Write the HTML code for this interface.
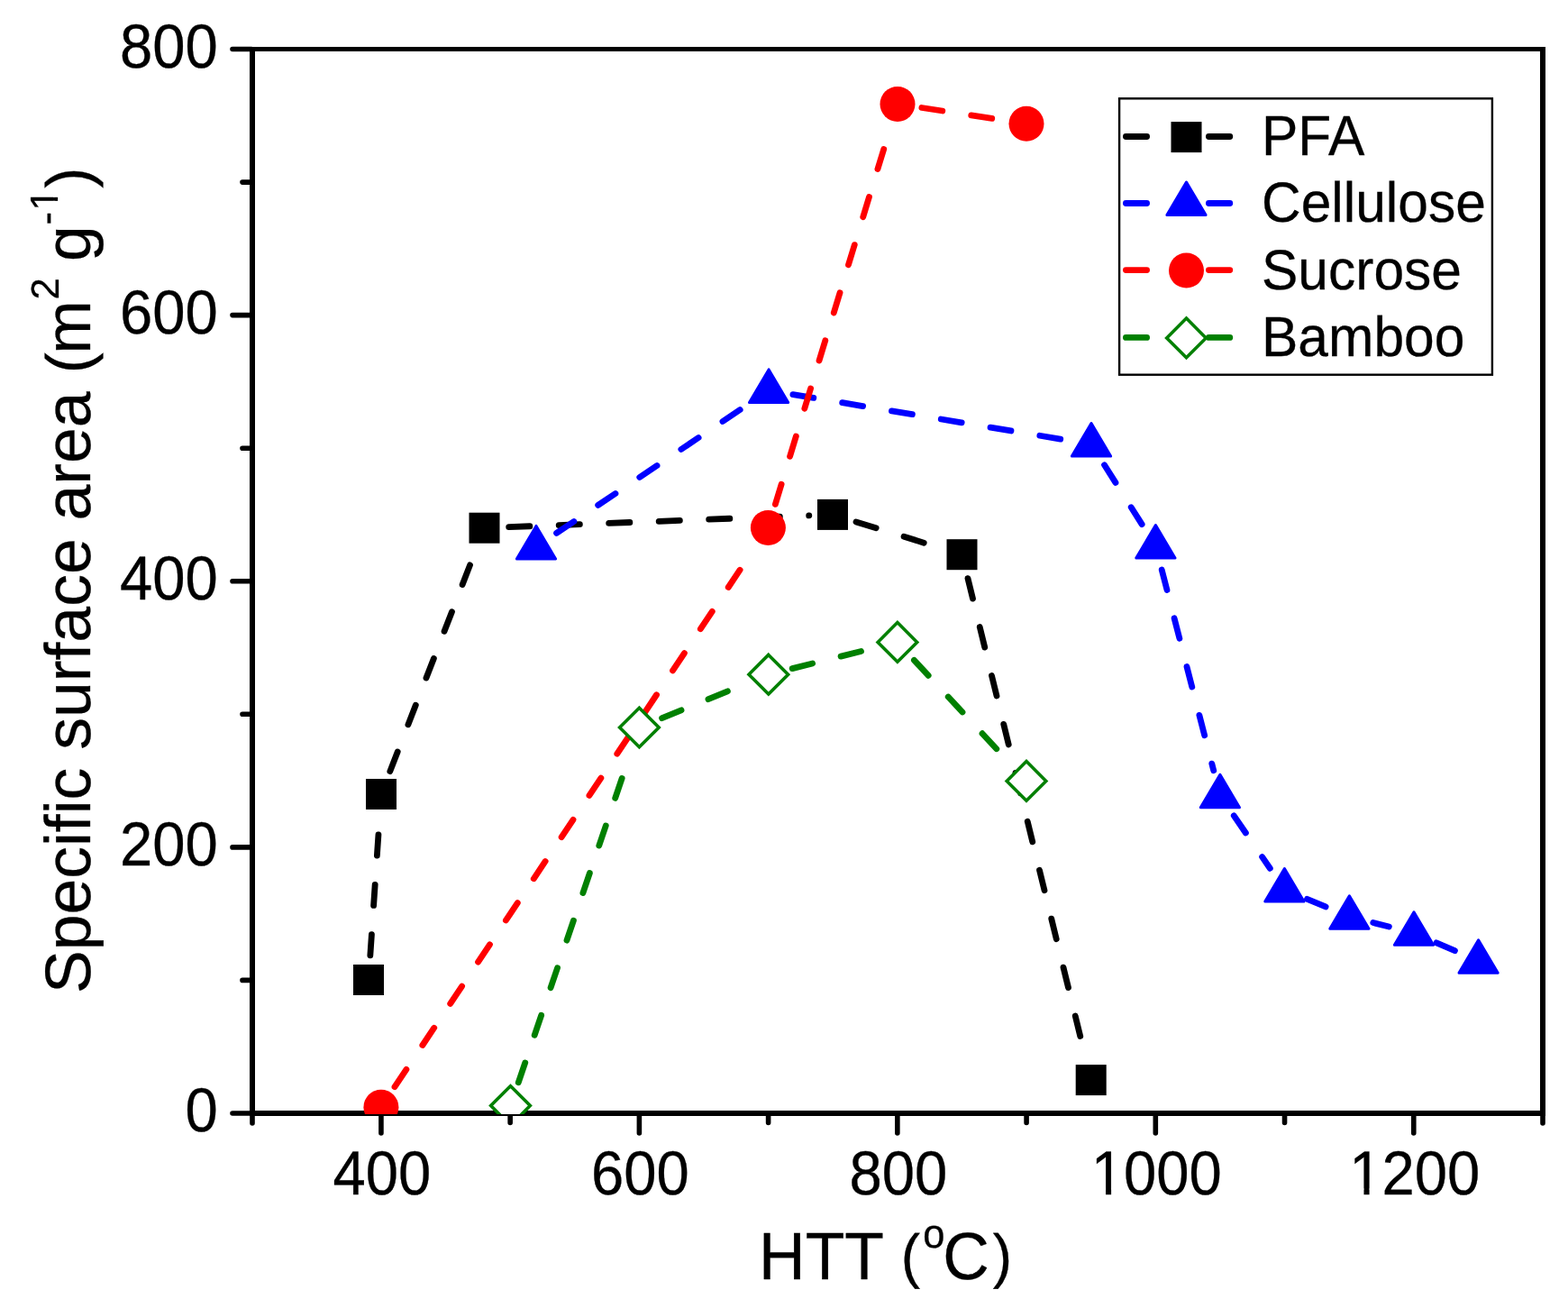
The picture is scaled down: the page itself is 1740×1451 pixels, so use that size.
<!DOCTYPE html><html><head><meta charset="utf-8"><title>Specific surface area vs HTT</title><style>html,body{margin:0;padding:0;background:#fff;}svg{display:block;}</style></head><body>
<svg width="1740" height="1451" viewBox="0 0 1740 1451" text-rendering="geometricPrecision">
<rect width="1740" height="1451" fill="#fff"/>
<defs>
<clipPath id="plot"><rect x="280" y="54.5" width="1432" height="1181.5"/></clipPath>
</defs>
<g stroke="#000" fill="none">
<path d="M277,54.5H1715" stroke-width="5"/>
<path d="M277,1235H1715" stroke-width="6"/>
<path d="M280,52V1238M1712,52V1238" stroke-width="6"/>
<path d="M280,1236V1246M1712,1236V1246M279,1235H258M279,1087.4H269M279,939.9H258M279,792.3H269M279,644.8H258M279,497.2H269M279,349.6H258M279,202.1H269M279,54.5H258M422.93,1236V1257M566.16,1236V1245.5M709.39,1236V1257M852.62,1236V1245.5M995.85,1236V1257M1139.08,1236V1245.5M1282.31,1236V1257M1425.54,1236V1245.5M1568.77,1236V1257" stroke-width="5.6" stroke-linecap="round"/>
</g>
<g clip-path="url(#plot)" fill="#000000"><path d="M410.84,1059.86L412.42,1036.72M414.61,1004.45L416.18,981.3M418.38,949.04L419.95,925.89M432.83,855.64L441.22,834.01M452.91,803.86L461.3,782.23M472.99,752.07L481.38,730.44M493.07,700.29L501.46,678.66M513.15,648.51L521.53,626.87M564.68,584.66L587.86,583.77M620.18,582.53L643.36,581.65M675.68,580.41L698.86,579.52M731.18,578.28L754.36,577.4M786.68,576.16L809.86,575.27M842.18,574.03L865.36,573.15M897.68,571.91L897.82,571.9M949.99,578.92L972.16,585.77M1003.06,595.31L1025.23,602.15M1073.99,641.61L1079.52,664.14M1087.24,695.55L1092.77,718.08M1100.49,749.49L1106.02,772.02M1113.74,803.42L1119.28,825.95M1126.99,857.36L1132.53,879.89M1140.24,911.3L1145.78,933.83M1153.49,965.23L1159.03,987.76M1166.74,1019.17L1172.28,1041.7M1179.99,1073.1L1185.53,1095.63M1193.24,1127.04L1198.78,1149.57" fill="none" stroke="#000000" stroke-width="6.8" stroke-linecap="round"/>
</g>
<g clip-path="url(#plot)" fill="#0000FF"><path d="M617.57,591.43L636.83,578.48M663.67,560.44L682.92,547.5M709.76,529.46L729.01,516.51M755.85,498.47L775.11,485.53M801.95,467.49L821.2,454.54M879.93,437.58L902.81,441.39M934.71,446.71L957.6,450.53M989.5,455.85L1012.38,459.67M1044.28,464.99L1067.16,468.81M1099.06,474.13L1121.95,477.95M1153.84,483.27L1176.73,487.08M1225.54,515.79L1237.94,535.4M1255.22,562.73L1267.17,581.61M1289.21,632.03L1295.01,654.5M1303.1,685.81L1308.9,708.27M1317,739.58L1322.8,762.04M1330.89,793.36L1336.7,815.82M1344.79,847.13L1346.77,854.81M1369.27,904.84L1382.38,923.98M1400.65,950.67L1409.3,963.29M1450.5,997.29L1471.11,1005.91M1523.77,1023.57L1541.37,1028.02M1593.97,1045.78L1614.43,1054.61" fill="none" stroke="#0000FF" stroke-width="6.8" stroke-linecap="round"/>
</g>
<g clip-path="url(#plot)" fill="#FF0000"><path d="M438.01,1205.68L450.9,1186.39M468.86,1159.5L481.75,1140.21M499.72,1113.32L512.6,1094.03M530.57,1067.14L543.46,1047.85M561.42,1020.95L574.31,1001.66M592.27,974.77L605.16,955.48M623.13,928.59L636.01,909.3M653.98,882.41L666.87,863.12M684.83,836.23L697.72,816.93M715.68,790.04L728.57,770.75M746.54,743.86L759.43,724.57M777.39,697.68L790.28,678.39M808.24,651.5L821.13,632.21M860.35,559.39L867.13,537.2M876.58,506.27L883.36,484.08M892.81,453.15L899.58,430.97M909.03,400.04L915.81,377.85M925.26,346.92L932.04,324.74M941.49,293.81L948.27,271.62M957.72,240.69L964.5,218.5M973.95,187.57L980.73,165.39M1022.89,119.5L1045.82,123M1077.79,127.87L1100.73,131.37" fill="none" stroke="#FF0000" stroke-width="6.8" stroke-linecap="round"/>
</g>
<g clip-path="url(#plot)" fill="#008000"><path d="M575.27,1200.85L582.75,1178.89M593.17,1148.28L600.65,1126.32M611.08,1095.7L618.56,1073.74M628.98,1043.13L636.46,1021.17M646.89,990.55L654.37,968.59M664.79,937.98L672.27,916.02M682.7,885.4L690.18,863.44M734.57,796.68L756.03,787.88M785.95,775.61L807.42,766.81M879.19,741.6L901.69,735.97M933.07,728.12L955.57,722.49M1014.42,732.33L1030.21,749.32M1052.22,773.01L1068.01,790.01M1090.03,813.7L1105.82,830.69" fill="none" stroke="#008000" stroke-width="6.8" stroke-linecap="round"/>
</g>
<g clip-path="url(#plot)">
<rect x="392" y="1070" width="34" height="34" fill="#000000"/>
<rect x="406" y="864" width="34" height="34" fill="#000000"/>
<rect x="520.5" y="568.7" width="34" height="34" fill="#000000"/>
<rect x="907" y="553.9" width="34" height="34" fill="#000000"/>
<rect x="1050.5" y="598.2" width="34" height="34" fill="#000000"/>
<rect x="1193.7" y="1181.1" width="34" height="34" fill="#000000"/>
</g>
<g clip-path="url(#plot)">
<polygon points="595,583.4 616.6,619.9 573.4,619.9" fill="#0000FF" stroke="#0000FF" stroke-width="3" stroke-linejoin="round"/>
<polygon points="853.1,409.9 874.7,446.4 831.5,446.4" fill="#0000FF" stroke="#0000FF" stroke-width="3" stroke-linejoin="round"/>
<polygon points="1211,469.6 1232.6,506.1 1189.4,506.1" fill="#0000FF" stroke="#0000FF" stroke-width="3" stroke-linejoin="round"/>
<polygon points="1282.4,582.5 1304,619 1260.8,619" fill="#0000FF" stroke="#0000FF" stroke-width="3" stroke-linejoin="round"/>
<polygon points="1353.9,859.2 1375.5,895.7 1332.3,895.7" fill="#0000FF" stroke="#0000FF" stroke-width="3" stroke-linejoin="round"/>
<polygon points="1425.4,963.6 1447,1000.1 1403.8,1000.1" fill="#0000FF" stroke="#0000FF" stroke-width="3" stroke-linejoin="round"/>
<polygon points="1497.4,993.7 1519,1030.2 1475.8,1030.2" fill="#0000FF" stroke="#0000FF" stroke-width="3" stroke-linejoin="round"/>
<polygon points="1569,1011.8 1590.6,1048.3 1547.4,1048.3" fill="#0000FF" stroke="#0000FF" stroke-width="3" stroke-linejoin="round"/>
<polygon points="1640.6,1042.7 1662.2,1079.2 1619,1079.2" fill="#0000FF" stroke="#0000FF" stroke-width="3" stroke-linejoin="round"/>
</g>
<g clip-path="url(#plot)">
<circle cx="422.9" cy="1228.3" r="19.5" fill="#FF0000"/>
<circle cx="852.4" cy="585.4" r="19.5" fill="#FF0000"/>
<circle cx="996" cy="115.4" r="19.5" fill="#FF0000"/>
<circle cx="1139" cy="137.2" r="19.5" fill="#FF0000"/>
</g>
<g clip-path="url(#plot)">
<polygon points="566.5,1204.8 588.3,1226.6 566.5,1248.4 544.7,1226.6" fill="#fff" stroke="#008000" stroke-width="3.6"/>
<polygon points="709.4,785.2 731.2,807 709.4,828.8 687.6,807" fill="#fff" stroke="#008000" stroke-width="3.6"/>
<polygon points="852.8,726.4 874.6,748.2 852.8,770 831,748.2" fill="#fff" stroke="#008000" stroke-width="3.6"/>
<polygon points="995.9,690.6 1017.7,712.4 995.9,734.2 974.1,712.4" fill="#fff" stroke="#008000" stroke-width="3.6"/>
<polygon points="1139,844.6 1160.8,866.4 1139,888.2 1117.2,866.4" fill="#fff" stroke="#008000" stroke-width="3.6"/>
</g>
<text transform="translate(241.7,1255.3) scale(1,1.057)" font-size="65.2" text-anchor="end" font-family="Liberation Sans, Arial, sans-serif" stroke="#000" stroke-width="0.3">0</text>
<text transform="translate(241.7,960.2) scale(1,1.057)" font-size="65.2" text-anchor="end" font-family="Liberation Sans, Arial, sans-serif" stroke="#000" stroke-width="0.3">200</text>
<text transform="translate(241.7,665.1) scale(1,1.057)" font-size="65.2" text-anchor="end" font-family="Liberation Sans, Arial, sans-serif" stroke="#000" stroke-width="0.3">400</text>
<text transform="translate(241.7,369.9) scale(1,1.057)" font-size="65.2" text-anchor="end" font-family="Liberation Sans, Arial, sans-serif" stroke="#000" stroke-width="0.3">600</text>
<text transform="translate(241.7,74.8) scale(1,1.057)" font-size="65.2" text-anchor="end" font-family="Liberation Sans, Arial, sans-serif" stroke="#000" stroke-width="0.3">800</text>
<text transform="translate(423.93,1325.15) scale(1,1.057)" font-size="65.2" text-anchor="middle" font-family="Liberation Sans, Arial, sans-serif" stroke="#000" stroke-width="0.3">400</text>
<text transform="translate(710.39,1325.15) scale(1,1.057)" font-size="65.2" text-anchor="middle" font-family="Liberation Sans, Arial, sans-serif" stroke="#000" stroke-width="0.3">600</text>
<text transform="translate(996.85,1325.15) scale(1,1.057)" font-size="65.2" text-anchor="middle" font-family="Liberation Sans, Arial, sans-serif" stroke="#000" stroke-width="0.3">800</text>
<text transform="translate(1283.31,1325.15) scale(1,1.057)" font-size="65.2" text-anchor="middle" font-family="Liberation Sans, Arial, sans-serif" stroke="#000" stroke-width="0.3">1000</text>
<text transform="translate(1569.77,1325.15) scale(1,1.057)" font-size="65.2" text-anchor="middle" font-family="Liberation Sans, Arial, sans-serif" stroke="#000" stroke-width="0.3">1200</text>
<g fill="#fff"><rect x="1212.7" y="1318.5" width="14.33" height="7.65"/><rect x="1233.1" y="1318.5" width="12.7" height="7.65"/><rect x="1499.16" y="1318.5" width="14.33" height="7.65"/><rect x="1519.56" y="1318.5" width="12.7" height="7.65"/></g>
<text transform="translate(0,1419) scale(1,1.039)" font-size="71.5" font-family="Liberation Sans, Arial, sans-serif" stroke="#000" stroke-width="0.3"><tspan x="842">HTT </tspan><tspan x="999.8" y="-2.7" font-size="64">(</tspan><tspan x="1024.2" y="-33.5" font-size="43.5">o</tspan><tspan x="1046.3" y="0">C</tspan><tspan x="1101.7" y="-2.7" font-size="64">)</tspan></text>
<text transform="translate(99.9,0) rotate(-90)" font-size="71.5" font-family="Liberation Sans, Arial, sans-serif" stroke="#000" stroke-width="0.3"><tspan x="-1102.05" y="0">Specific surface area </tspan><tspan x="-414.15" font-size="69.5">(</tspan><tspan x="-392.7" font-size="71.5">m</tspan><tspan x="-332.4" y="-35.3" font-size="43.5">2</tspan><tspan x="-289.95" y="0">g</tspan><tspan x="-249.6" y="-33.6" font-size="43.5">-</tspan><tspan x="-233.7" y="-36.1" font-size="43.5">1</tspan><tspan x="-208.8" y="0" font-size="69.5">)</tspan></text>
<g transform="translate(99.9,0) rotate(-90)" fill="#fff"><rect x="-232.43" y="-40.65" width="9.56" height="6.45"/><rect x="-218.81" y="-40.65" width="8.47" height="6.45"/></g>
<rect x="1242.1" y="109.3" width="413.8" height="306.4" fill="#fff" stroke="#000" stroke-width="2.4"/>
<path d="M1249.4,151.5H1272.6M1341.4,151.5H1364.8" stroke="#000000" stroke-width="6.8" stroke-linecap="round"/>
<rect x="1299.5" y="135.1" width="34" height="34" fill="#000000"/>
<text transform="translate(1400,172.3) scale(1,1.035)" font-size="60.5" font-family="Liberation Sans, Arial, sans-serif" stroke="#000" stroke-width="0.3">PFA</text>
<path d="M1249.4,225.5H1272.6M1341.4,225.5H1364.8" stroke="#0000FF" stroke-width="6.8" stroke-linecap="round"/>
<polygon points="1316.5,202 1338.1,238.5 1294.9,238.5" fill="#0000FF" stroke="#0000FF" stroke-width="3" stroke-linejoin="round"/>
<text transform="translate(1400,246.2) scale(1,1.035)" font-size="60.5" font-family="Liberation Sans, Arial, sans-serif" stroke="#000" stroke-width="0.3">Cellulose</text>
<path d="M1249.4,299.6H1272.6M1341.4,299.6H1364.8" stroke="#FF0000" stroke-width="6.8" stroke-linecap="round"/>
<circle cx="1316.5" cy="300.1" r="19.5" fill="#FF0000"/>
<text transform="translate(1400,320.8) scale(1,1.035)" font-size="60.5" font-family="Liberation Sans, Arial, sans-serif" stroke="#000" stroke-width="0.3">Sucrose</text>
<path d="M1249.4,374.4H1272.6M1341.4,374.4H1364.8" stroke="#008000" stroke-width="6.8" stroke-linecap="round"/>
<polygon points="1316.5,353.1 1338.3,374.9 1316.5,396.7 1294.7,374.9" fill="#fff" stroke="#008000" stroke-width="3.6"/>
<text transform="translate(1400,394.9) scale(1,1.035)" font-size="60.5" font-family="Liberation Sans, Arial, sans-serif" stroke="#000" stroke-width="0.3">Bamboo</text>
</svg></body></html>
